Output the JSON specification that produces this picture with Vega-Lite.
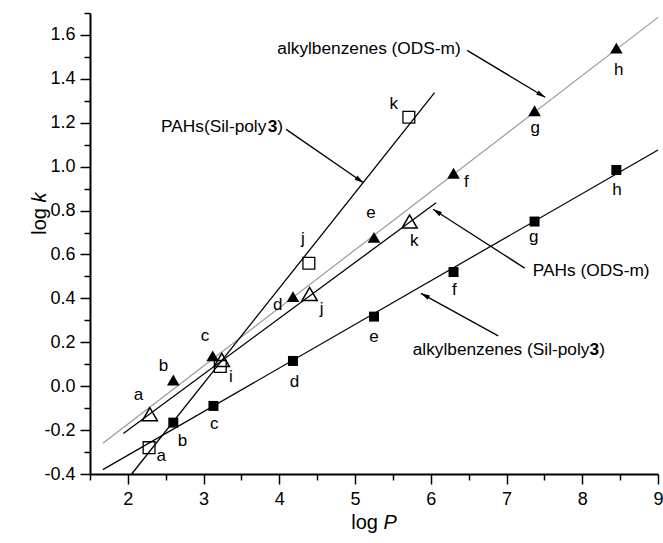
{
  "$schema": "https://vega.github.io/schema/vega-lite/v6.json",
  "width": 568,
  "height": 461,
  "autosize": {"type": "none"},
  "padding": {"left": 90, "top": 13, "right": 5, "bottom": 69},
  "background": "white",
  "config": {
    "view": {"stroke": null},
    "font": "Liberation Sans",
    "text": {"font": "Liberation Sans", "color": "black"},
    "axis": {"labelFont": "Liberation Sans", "titleFont": "Liberation Sans"}
  },
  "datasets": {
    "lines": [
      {"series": "alkyl_ODS", "x": 1.67, "y": -0.26},
      {"series": "alkyl_ODS", "x": 9.0, "y": 1.68},
      {"series": "alkyl_Sil", "x": 1.67, "y": -0.38},
      {"series": "alkyl_Sil", "x": 9.0, "y": 1.076},
      {"series": "PAH_ODS", "x": 1.94, "y": -0.215},
      {"series": "PAH_ODS", "x": 6.07, "y": 0.836},
      {"series": "PAH_Sil", "x": 2.05, "y": -0.4},
      {"series": "PAH_Sil", "x": 6.05, "y": 1.337}
    ],
    "points": [
      {"series": "alkyl_ODS", "label": "b", "x": 2.60, "y": 0.028},
      {"series": "alkyl_ODS", "label": "c", "x": 3.12, "y": 0.138},
      {"series": "alkyl_ODS", "label": "d", "x": 4.18, "y": 0.408},
      {"series": "alkyl_ODS", "label": "e", "x": 5.25, "y": 0.678},
      {"series": "alkyl_ODS", "label": "f", "x": 6.30, "y": 0.97},
      {"series": "alkyl_ODS", "label": "g", "x": 7.37, "y": 1.255},
      {"series": "alkyl_ODS", "label": "h", "x": 8.45, "y": 1.54},
      {"series": "alkyl_Sil", "label": "b", "x": 2.60, "y": -0.166},
      {"series": "alkyl_Sil", "label": "c", "x": 3.13, "y": -0.09},
      {"series": "alkyl_Sil", "label": "d", "x": 4.18, "y": 0.115},
      {"series": "alkyl_Sil", "label": "e", "x": 5.25, "y": 0.317},
      {"series": "alkyl_Sil", "label": "f", "x": 6.30, "y": 0.52},
      {"series": "alkyl_Sil", "label": "g", "x": 7.37, "y": 0.75},
      {"series": "alkyl_Sil", "label": "h", "x": 8.45, "y": 0.985},
      {"series": "PAH_ODS", "label": "a", "x": 2.29, "y": -0.128},
      {"series": "PAH_ODS", "label": "i", "x": 3.24, "y": 0.12},
      {"series": "PAH_ODS", "label": "j", "x": 4.40, "y": 0.42},
      {"series": "PAH_ODS", "label": "k", "x": 5.72, "y": 0.75},
      {"series": "PAH_Sil", "label": "a", "x": 2.28, "y": -0.28},
      {"series": "PAH_Sil", "label": "i", "x": 3.22, "y": 0.09},
      {"series": "PAH_Sil", "label": "j", "x": 4.39, "y": 0.56},
      {"series": "PAH_Sil", "label": "k", "x": 5.71, "y": 1.225}
    ],
    "letters": [
      {"text": "a", "x": 2.44, "y": -0.32},
      {"text": "b", "x": 2.72, "y": -0.25},
      {"text": "c", "x": 3.14, "y": -0.17},
      {"text": "d", "x": 4.20, "y": 0.02},
      {"text": "e", "x": 5.25, "y": 0.225},
      {"text": "f", "x": 6.31, "y": 0.44},
      {"text": "g", "x": 7.36, "y": 0.678},
      {"text": "h", "x": 8.46, "y": 0.894},
      {"text": "a", "x": 2.14, "y": -0.04},
      {"text": "b", "x": 2.47, "y": 0.09},
      {"text": "c", "x": 3.02, "y": 0.23},
      {"text": "i", "x": 3.36, "y": 0.04},
      {"text": "d", "x": 3.98, "y": 0.37},
      {"text": "j", "x": 4.56, "y": 0.35},
      {"text": "j", "x": 4.31, "y": 0.67},
      {"text": "e", "x": 5.21, "y": 0.79},
      {"text": "k", "x": 5.78, "y": 0.66},
      {"text": "f", "x": 6.47, "y": 0.93},
      {"text": "g", "x": 7.38, "y": 1.175},
      {"text": "h", "x": 8.48, "y": 1.44},
      {"text": "k", "x": 5.51, "y": 1.286}
    ],
    "arrows": [
      {"id": 1, "x": 6.48, "y": 1.53},
      {"id": 1, "x": 7.51, "y": 1.316},
      {"id": 2, "x": 4.09, "y": 1.17},
      {"id": 2, "x": 5.11, "y": 0.927},
      {"id": 3, "x": 7.24, "y": 0.538},
      {"id": 3, "x": 6.03, "y": 0.806},
      {"id": 4, "x": 6.89, "y": 0.229},
      {"id": 4, "x": 5.87, "y": 0.423}
    ],
    "heads": [
      {"id": 1, "x": 7.51, "y": 1.316, "angle": 121},
      {"id": 2, "x": 5.11, "y": 0.927, "angle": 124.6},
      {"id": 3, "x": 6.03, "y": 0.806, "angle": 302.75},
      {"id": 4, "x": 5.87, "y": 0.423, "angle": 298.8}
    ],
    "notes": [
      {"text": "alkylbenzenes (ODS-m)", "x": 3.973, "y": 1.535},
      {"text": "PAHs(Sil-poly", "x": 2.438, "y": 1.18},
      {"text": ")", "x": 3.974, "y": 1.18},
      {"text": "PAHs (ODS-m)", "x": 7.346, "y": 0.526},
      {"text": "alkylbenzenes (Sil-poly", "x": 5.761, "y": 0.165},
      {"text": ")", "x": 8.224, "y": 0.165}
    ],
    "boldnotes": [
      {"text": "3", "x": 3.847, "y": 1.18},
      {"text": "3", "x": 8.097, "y": 0.165}
    ],
    "xtitle": [{"text": "log", "x": 4.95, "y": -0.625}],
    "xtitleItalic": [{"text": "P", "x": 5.375, "y": -0.625}],
    "ytitle": [{"text": "log", "x": 0.84, "y": 0.69}],
    "ytitleItalic": [{"text": "k", "x": 0.84, "y": 0.837}]
  },
  "encoding": {
    "x": {
      "field": "x",
      "type": "quantitative",
      "scale": {"domain": [1.5, 9], "nice": false, "zero": false},
      "axis": {
        "title": null,
        "grid": false,
        "values": [1.5, 2, 2.5, 3, 3.5, 4, 4.5, 5, 5.5, 6, 6.5, 7, 7.5, 8, 8.5, 9],
        "domainColor": "black",
        "domainWidth": 2,
        "tickColor": "black",
        "tickWidth": 1.5,
        "tickSize": {"condition": {"test": "abs(datum.value - round(datum.value)) < 0.01", "value": 10}, "value": 6},
        "labelExpr": "abs(datum.value - round(datum.value)) < 0.01 ? format(datum.value, 'd') : ''",
        "labelFontSize": 18,
        "labelColor": "black",
        "labelPadding": 6,
        "labelOverlap": false,
        "labelFlush": false,
        "labelBound": false
      }
    },
    "y": {
      "field": "y",
      "type": "quantitative",
      "scale": {"domain": [-0.4, 1.7], "nice": false, "zero": false},
      "axis": {
        "title": null,
        "grid": false,
        "values": [-0.4, -0.3, -0.2, -0.1, 0, 0.1, 0.2, 0.3, 0.4, 0.5, 0.6, 0.7, 0.8, 0.9, 1.0, 1.1, 1.2, 1.3, 1.4, 1.5, 1.6, 1.7],
        "domainColor": "black",
        "domainWidth": 2,
        "tickColor": "black",
        "tickWidth": 1.5,
        "tickSize": {"condition": {"test": "abs(datum.value * 5 - round(datum.value * 5)) < 0.01", "value": 10}, "value": 6},
        "labelExpr": "abs(datum.value * 5 - round(datum.value * 5)) < 0.01 && datum.value < 1.65 ? (datum.value < -0.001 ? '-' : '') + format(abs(datum.value), '.1f') : ''",
        "labelFontSize": 18,
        "labelColor": "black",
        "labelPadding": 5,
        "labelOverlap": false,
        "labelFlush": false,
        "labelBound": false
      }
    }
  },
  "layer": [
    {
      "data": {"name": "lines"},
      "mark": {"type": "line", "clip": false},
      "encoding": {
        "detail": {"field": "series"},
        "color": {"field": "series", "type": "nominal", "scale": {"domain": ["alkyl_ODS", "alkyl_Sil", "PAH_ODS", "PAH_Sil"], "range": ["#9a9a9a", "#000000", "#000000", "#000000"]}, "legend": null},
        "strokeWidth": {"field": "series", "type": "nominal", "scale": {"domain": ["alkyl_ODS", "alkyl_Sil", "PAH_ODS", "PAH_Sil"], "range": [1.2, 1.3, 2, 2]}, "legend": null}
      }
    },
    {
      "data": {"name": "arrows"},
      "mark": {"type": "line", "color": "black", "strokeWidth": 1.3},
      "encoding": {"detail": {"field": "id"}}
    },
    {
      "data": {"name": "heads"},
      "mark": {"type": "point", "shape": "M0,0L-0.5,1.8L0.5,1.8Z", "filled": true, "color": "black", "size": 100, "opacity": 1},
      "encoding": {"angle": {"field": "angle", "type": "quantitative", "scale": null}}
    },
    {
      "data": {"name": "points"},
      "transform": [{"filter": "datum.series === 'alkyl_ODS'"}],
      "mark": {"type": "point", "shape": "triangle-up", "filled": true, "color": "black", "size": 160, "opacity": 1}
    },
    {
      "data": {"name": "points"},
      "transform": [{"filter": "datum.series === 'alkyl_Sil'"}],
      "mark": {"type": "point", "shape": "square", "filled": true, "color": "black", "size": 100, "opacity": 1}
    },
    {
      "data": {"name": "points"},
      "transform": [{"filter": "datum.series === 'PAH_ODS'"}],
      "mark": {"type": "point", "shape": "triangle-up", "filled": false, "stroke": "black", "strokeWidth": 1.5, "size": 230, "opacity": 1}
    },
    {
      "data": {"name": "points"},
      "transform": [{"filter": "datum.series === 'PAH_Sil'"}],
      "mark": {"type": "point", "shape": "square", "filled": false, "stroke": "black", "strokeWidth": 1.3, "size": 140, "opacity": 1}
    },
    {
      "data": {"name": "letters"},
      "mark": {"type": "text", "fontSize": 17, "align": "center", "baseline": "middle"},
      "encoding": {"text": {"field": "text"}}
    },
    {
      "data": {"name": "notes"},
      "mark": {"type": "text", "fontSize": 17.3, "align": "left", "baseline": "middle"},
      "encoding": {"text": {"field": "text"}}
    },
    {
      "data": {"name": "boldnotes"},
      "mark": {"type": "text", "fontSize": 17.3, "fontWeight": "bold", "align": "left", "baseline": "middle"},
      "encoding": {"text": {"field": "text"}}
    },
    {
      "data": {"name": "xtitle"},
      "mark": {"type": "text", "fontSize": 20, "align": "left", "baseline": "middle"},
      "encoding": {"text": {"field": "text"}}
    },
    {
      "data": {"name": "xtitleItalic"},
      "mark": {"type": "text", "fontSize": 20, "fontStyle": "italic", "align": "left", "baseline": "middle"},
      "encoding": {"text": {"field": "text"}}
    },
    {
      "data": {"name": "ytitle"},
      "mark": {"type": "text", "fontSize": 20, "angle": 270, "align": "left", "baseline": "middle"},
      "encoding": {"text": {"field": "text"}}
    },
    {
      "data": {"name": "ytitleItalic"},
      "mark": {"type": "text", "fontSize": 20, "fontStyle": "italic", "angle": 270, "align": "left", "baseline": "middle"},
      "encoding": {"text": {"field": "text"}}
    }
  ]
}
